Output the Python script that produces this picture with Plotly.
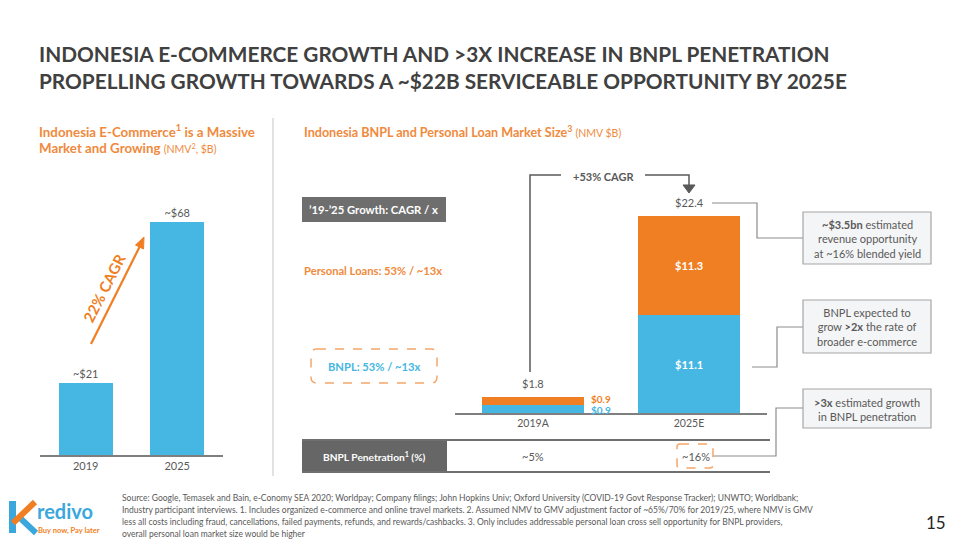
import plotly.graph_objects as go

# ---------------- data ----------------
ecom_years = ["2019", "2025"]
ecom_nmv = [21, 68]
ecom_labels = ["~$21", "~$68"]

bnpl_years = ["2019A", "2025E"]
bnpl_values = [0.9, 11.1]
loan_values = [0.9, 11.3]
bnpl_labels = ["$0.9", "$11.1"]
loan_labels = ["$0.9", "$11.3"]
total_labels = ["$1.8", "$22.4"]
penetration = ["~5%", "~16%"]

# ---------------- style ----------------
W, H = 960, 540
BLUE = "#46B6E2"
ORANGE = "#F07F24"
LORANGE = "#F08A3C"
GRAY = "#595959"
DARK = "#404040"
FONT = "Lato, 'Open Sans', sans-serif"


def px(x):
    return x / W


def py(y):
    return 1 - y / H


def path(points, close=False):
    s = "M " + " L ".join(f"{px(x):.5f},{py(y):.5f}" for x, y in points)
    return s + (" Z" if close else "")


def rrect(x0, y0, x1, y1, r):
    P = lambda x, y: f"{px(x):.5f},{py(y):.5f}"
    return (f"M {P(x0 + r, y0)} L {P(x1 - r, y0)} Q {P(x1, y0)} {P(x1, y0 + r)} "
            f"L {P(x1, y1 - r)} Q {P(x1, y1)} {P(x1 - r, y1)} L {P(x0 + r, y1)} "
            f"Q {P(x0, y1)} {P(x0, y1 - r)} L {P(x0, y0 + r)} Q {P(x0, y0)} {P(x0 + r, y0)} Z")


fig = go.Figure()

# left chart: e-commerce
fig.add_trace(go.Bar(
    x=ecom_years, y=ecom_nmv, width=0.59, marker=dict(color=BLUE, line=dict(width=0)),
    text=ecom_labels, textposition="outside", cliponaxis=False,
    textfont=dict(family=FONT, size=11, color=GRAY), xaxis="x", yaxis="y",
    hoverinfo="skip"))

# right chart: BNPL + personal loans (stacked)
fig.add_trace(go.Bar(
    x=bnpl_years, y=bnpl_values, width=0.66, marker=dict(color=BLUE, line=dict(width=0)),
    xaxis="x2", yaxis="y2", hoverinfo="skip"))
fig.add_trace(go.Bar(
    x=bnpl_years, y=loan_values, width=0.66, marker=dict(color=ORANGE, line=dict(width=0)),
    xaxis="x2", yaxis="y2", hoverinfo="skip"))

ann = []
shapes = []


def text(x, y, t, size=11, color=GRAY, anchor="center", bold=False, angle=0, family=FONT):
    ann.append(dict(x=px(x), y=py(y), xref="paper", yref="paper", text=t, showarrow=False,
                    xanchor=anchor, yanchor="middle", textangle=angle,
                    font=dict(family=family, size=size, color=color,
                              weight="bold" if bold else "normal")))


# titles
text(37, 54, "INDONESIA E-COMMERCE GROWTH AND >3X INCREASE IN BNPL PENETRATION", 20.8, DARK, "left", True)
text(37, 80, "PROPELLING GROWTH TOWARDS A ~$22B SERVICEABLE OPPORTUNITY BY 2025E", 20.8, DARK, "left", True)

text(37, 131, "Indonesia E-Commerce<sup>1</sup> is a Massive", 13.3, LORANGE, "left", True)
text(37, 148, "Market and Growing <span style='font-weight:normal;font-size:10.5px'>(NMV<sup>2</sup>, $B)</span>",
     13.3, LORANGE, "left", True)
text(302, 131, "Indonesia BNPL and Personal Loan Market Size<sup>3</sup> <span style='font-weight:normal;font-size:10.5px'>(NMV $B)</span>",
     12.6, LORANGE, "left", True)

# separator
shapes.append(dict(type="line", xref="paper", yref="paper", x0=px(273), x1=px(273), y0=py(118), y1=py(476),
                   line=dict(color="#D9D9D9", width=1.5)))

# 22% CAGR arrow
shapes.append(dict(type="line", xref="paper", yref="paper", x0=px(91), y0=py(344), x1=px(140), y1=py(246),
                   line=dict(color=ORANGE, width=2.2)))
shapes.append(dict(type="path", xref="paper", yref="paper",
                   path=path([(144, 237), (135.5, 245), (143.5, 249)], True),
                   fillcolor=ORANGE, line=dict(color=ORANGE, width=1)))
text(104, 288, "22% CAGR", 15, ORANGE, "center", True, -63)

# growth box
shapes.append(dict(type="rect", xref="paper", yref="paper", x0=px(302), x1=px(446), y0=py(222), y1=py(197),
                   fillcolor="#6E6E6E", line=dict(width=0)))
text(373, 210, "’19-’25 Growth: CAGR / x", 11.3, "white", "center", True)
text(373, 270, "Personal Loans: 53% / ~13x", 11.2, LORANGE, "center", True)
shapes.append(dict(type="path", xref="paper", yref="paper", path=rrect(311, 349, 437, 383, 6),
                   line=dict(color="#F4A76A", width=1.5, dash="dash")))
text(374, 366, "BNPL: 53% / ~13x", 11.2, BLUE, "center", True)

# CAGR bracket
LC = "#595959"
shapes.append(dict(type="path", xref="paper", yref="paper", path=path([(530, 372), (530, 175), (561, 175)]),
                   line=dict(color=LC, width=1.5)))
shapes.append(dict(type="path", xref="paper", yref="paper", path=path([(645, 175), (689, 175), (689, 186)]),
                   line=dict(color=LC, width=1.5)))
shapes.append(dict(type="path", xref="paper", yref="paper", path=path([(683, 185), (695, 185), (689, 193)], True),
                   fillcolor=LC, line=dict(color=LC, width=1)))
text(603, 177, "+53% CAGR", 11, GRAY, "center", True)

# value annotations from data (right chart)
for i, cat in enumerate(bnpl_years):
    tot = bnpl_values[i] + loan_values[i]
    ann.append(dict(x=cat, y=tot, xref="x2", yref="y2", text=total_labels[i], showarrow=False,
                    yanchor="bottom", yshift=5, font=dict(family=FONT, size=11, color=GRAY)))
    if bnpl_values[i] >= 2:
        ann.append(dict(x=cat, y=bnpl_values[i] / 2, xref="x2", yref="y2", text=bnpl_labels[i],
                        showarrow=False, font=dict(family=FONT, size=11, color="white", weight="bold")))
    if loan_values[i] >= 2:
        ann.append(dict(x=cat, y=bnpl_values[i] + loan_values[i] / 2, xref="x2", yref="y2",
                        text=loan_labels[i], showarrow=False,
                        font=dict(family=FONT, size=11, color="white", weight="bold")))
ann.append(dict(x=bnpl_years[0], y=bnpl_values[0] + loan_values[0] / 2, xref="x2", yref="y2",
                text=loan_labels[0], showarrow=False, xanchor="left", xshift=56, yshift=2.5,
                font=dict(family=FONT, size=10, color=ORANGE, weight="bold")))
ann.append(dict(x=bnpl_years[0], y=bnpl_values[0] / 2, xref="x2", yref="y2",
                text=bnpl_labels[0], showarrow=False, xanchor="left", xshift=56, yshift=-0.5,
                font=dict(family=FONT, size=10, color=BLUE, weight="bold")))

# callout connectors
CC = "#8C8C8C"
shapes.append(dict(type="path", xref="paper", yref="paper",
                   path=path([(712, 203), (757, 203), (757, 238), (803, 238)]), line=dict(color=CC, width=1.2)))
shapes.append(dict(type="path", xref="paper", yref="paper",
                   path=path([(752, 367), (777, 367), (777, 327), (803, 327)]), line=dict(color=CC, width=1.2)))
shapes.append(dict(type="path", xref="paper", yref="paper",
                   path=path([(713, 456), (776, 456), (776, 408), (803, 408)]), line=dict(color=CC, width=1.2)))

# callout boxes
for (y0, y1) in [(212, 264), (300, 353), (389, 428)]:
    shapes.append(dict(type="rect", xref="paper", yref="paper", x0=px(803), x1=px(931), y0=py(y1), y1=py(y0),
                       fillcolor="#F4F5F6", line=dict(color="#A6A6A6", width=1.2)))
text(867, 239, "<b>~$3.5bn</b> estimated<br>revenue opportunity<br>at ~16% blended yield", 11, GRAY)
text(867, 327, "BNPL expected to<br>grow <b>>2x</b> the rate of<br>broader e-commerce", 11, GRAY)
text(867, 409, "<b>>3x</b> estimated growth<br>in BNPL penetration", 11, GRAY)

# penetration table
shapes.append(dict(type="line", xref="paper", yref="paper", x0=px(302), x1=px(770), y0=py(440), y1=py(440),
                   line=dict(color=DARK, width=1.5)))
shapes.append(dict(type="line", xref="paper", yref="paper", x0=px(302), x1=px(770), y0=py(472), y1=py(472),
                   line=dict(color=DARK, width=1.5)))
shapes.append(dict(type="rect", xref="paper", yref="paper", x0=px(302), x1=px(447), y0=py(471), y1=py(441),
                   fillcolor="#666666", line=dict(width=0)))
text(374, 456, "BNPL Penetration<sup>1</sup> (%)", 10.2, "white", "center", True)
for i, cat in enumerate(bnpl_years):
    ann.append(dict(x=cat, y=py(456), xref="x2", yref="paper", text=penetration[i], showarrow=False,
                    xshift=[0, 7][i], yanchor="middle", font=dict(family=FONT, size=11, color=GRAY)))
shapes.append(dict(type="path", xref="paper", yref="paper", path=rrect(677, 444, 713, 468, 3),
                   line=dict(color="#F4A76A", width=1.5, dash="dash")))

# footer
foot = [
    "Source: Google, Temasek and Bain, e-Conomy SEA 2020; Worldpay; Company filings; John Hopkins Univ; Oxford University (COVID-19 Govt Response Tracker); UNWTO; Worldbank;",
    "Industry participant interviews. 1. Includes organized e-commerce and online travel markets. 2. Assumed NMV to GMV adjustment factor of ~65%/70% for 2019/25, where NMV is GMV",
    "less all costs including fraud, cancellations, failed payments, refunds, and rewards/cashbacks. 3. Only includes addressable personal loan cross sell opportunity for BNPL providers,",
    "overall personal loan market size would be higher",
]
for i, line in enumerate(foot):
    text(120, 498 + 12 * i, line, 8.5, GRAY, "left")
text(936, 522, "15", 17, "#262626", "center")

# logo
shapes.append(dict(type="rect", xref="paper", yref="paper", x0=px(9), x1=px(16), y0=py(533), y1=py(501),
                   fillcolor="#3AA8DC", line=dict(width=0)))
shapes.append(dict(type="line", xref="paper", yref="paper", x0=px(19), y0=py(517), x1=px(36), y1=py(533),
                   line=dict(color="#3AA8DC", width=6)))
shapes.append(dict(type="line", xref="paper", yref="paper", x0=px(13), y0=py(523), x1=px(35), y1=py(502),
                   line=dict(color=ORANGE, width=6)))
text(35, 511, "redivo", 20, "#3AA8DC", "left", True)
text(36, 530, "Buy now, Pay later", 7.5, ORANGE, "left", True)

fig.update_layout(
    width=W, height=H, margin=dict(l=0, r=0, t=0, b=0),
    paper_bgcolor="white", plot_bgcolor="white", showlegend=False, barmode="stack",
    font=dict(family=FONT),
    xaxis=dict(domain=[px(40), px(223)], showline=True, linecolor="#7F7F7F", linewidth=1.5,
               ticks="", showgrid=False, zeroline=False, anchor="y",
               tickfont=dict(family=FONT, size=11, color=GRAY)),
    yaxis=dict(domain=[py(455), py(181)], range=[0, 80], visible=False, anchor="x"),
    xaxis2=dict(domain=[px(455), px(767)], showline=True, linecolor="#7F7F7F", linewidth=1.5,
                ticks="", showgrid=False, zeroline=False, anchor="y2",
                tickfont=dict(family=FONT, size=10.5, color=GRAY)),
    yaxis2=dict(domain=[py(413), py(193)], range=[0, 25], visible=False, anchor="x2"),
    annotations=ann, shapes=shapes,
)

fig.write_html("out.html", config={"displayModeBar": False},
               post_script="document.body.style.margin='0';document.body.style.overflow='hidden';")
